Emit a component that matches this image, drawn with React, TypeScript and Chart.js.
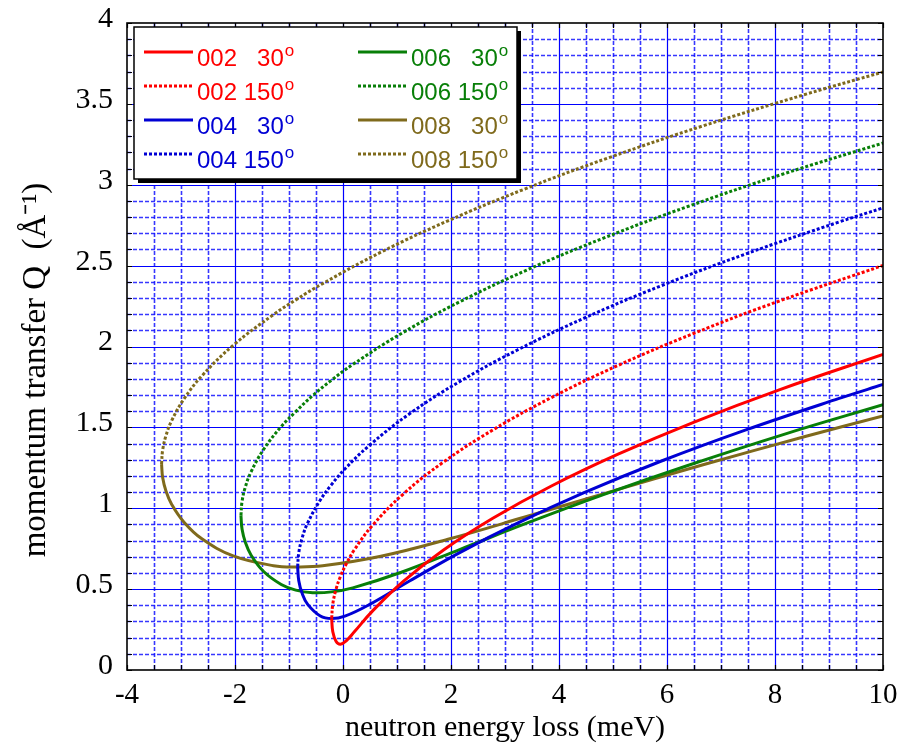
import React, { useEffect, useRef } from "react";
import { Chart, registerables } from "chart.js";

Chart.register(...registerables);

// ---- axis ranges / tick steps ----
const X_MIN = -4;
const X_MAX = 10;
const X_MAJOR = 2;
const X_MINOR = 0.5;
const Y_MIN = 0;
const Y_MAX = 4;
const Y_MAJOR = 0.5;
const Y_MINOR = 0.1;

const X_TITLE = "neutron energy loss (meV)";
const Y_TITLE = "momentum transfer Q  (Å⁻¹)";

// ---- series (neutron energy loss meV, momentum transfer 1/Å) ----
const dE002 = [-0.21, -0.189, -0.127, -0.048, 0.059, 0.21, 0.536, 1.116, 1.862, 2.774, 3.851, 5.094, 6.503, 8.078, 10];
const q002_30 = [0.318, 0.237, 0.176, 0.159, 0.18, 0.236, 0.361, 0.548, 0.742, 0.938, 1.136, 1.334, 1.533, 1.732, 1.951];
const q002_150 = [0.318, 0.408, 0.502, 0.578, 0.655, 0.743, 0.89, 1.088, 1.286, 1.484, 1.683, 1.883, 2.082, 2.281, 2.501];

const dE004 = [-0.84, -0.819, -0.757, -0.654, -0.42, -0.213, 0.035, 0.486, 1.232, 2.144, 3.221, 4.464, 5.873, 7.448, 9.188, 10];
const q004_30 = [0.637, 0.552, 0.474, 0.406, 0.334, 0.318, 0.333, 0.404, 0.55, 0.723, 0.906, 1.096, 1.289, 1.483, 1.679, 1.765];
const q004_150 = [0.637, 0.725, 0.816, 0.909, 1.051, 1.146, 1.243, 1.388, 1.584, 1.78, 1.977, 2.175, 2.373, 2.571, 2.77, 2.857];

const dE006 = [-1.89, -1.869, -1.807, -1.704, -1.47, -1.144, -0.875, -0.564, -0.212, 0.182, 1.094, 2.171, 3.414, 4.823, 6.398, 8.138, 10];
const q006_30 = [0.955, 0.87, 0.788, 0.711, 0.609, 0.529, 0.494, 0.478, 0.483, 0.508, 0.606, 0.746, 0.909, 1.084, 1.266, 1.454, 1.64];
const q006_150 = [0.955, 1.043, 1.133, 1.224, 1.364, 1.505, 1.597, 1.696, 1.792, 1.889, 2.083, 2.278, 2.474, 2.67, 2.867, 3.065, 3.258];

const dE008 = [-3.36, -3.339, -3.277, -3.174, -2.94, -2.614, -2.034, -1.288, -0.853, -0.376, 0.701, 1.944, 3.353, 4.928, 6.668, 8.575, 10];
const q008_30 = [1.273, 1.188, 1.105, 1.025, 0.912, 0.811, 0.705, 0.645, 0.637, 0.644, 0.703, 0.808, 0.944, 1.1, 1.269, 1.445, 1.571];
const q008_150 = [1.273, 1.361, 1.45, 1.541, 1.678, 1.818, 2.007, 2.197, 2.293, 2.389, 2.583, 2.777, 2.972, 3.168, 3.364, 3.56, 3.697];

const seriesLabels = ["002   30°", "002 150°", "004   30°", "004 150°", "006   30°", "006 150°", "008   30°", "008 150°"];
const seriesColors = ["#ff0000", "#ff0000", "#0000d4", "#0000d4", "#087f08", "#087f08", "#7f6a1c", "#7f6a1c"];
const seriesX = [dE002, dE002, dE004, dE004, dE006, dE006, dE008, dE008];
const seriesY = [q002_30, q002_150, q004_30, q004_150, q006_30, q006_150, q008_30, q008_150];

const SERIF = '"Liberation Serif", "Times New Roman", Times, serif';
const SANS = '"Liberation Sans", Arial, Helvetica, sans-serif';

function steps(min: number, max: number, step: number): number[] {
  const n = Math.round((max - min) / step);
  const out: number[] = [];
  for (let i = 0; i <= n; i++) out.push(+(min + i * step).toFixed(6));
  return out;
}

function isMultiple(v: number, step: number): boolean {
  const r = v / step;
  return Math.abs(r - Math.round(r)) < 1e-6;
}

const gridPlugin = {
  id: "customGrid",
  beforeDatasetsDraw(chart: any) {
    const { ctx, chartArea: a, scales } = chart;
    const xs = scales.x;
    const ys = scales.y;
    ctx.save();
    // minor dotted grid
    ctx.strokeStyle = "rgba(20,20,255,0.85)";
    ctx.lineWidth = 1.6;
    ctx.setLineDash([4, 2]);
    for (const v of steps(X_MIN, X_MAX, X_MINOR)) {
      if (isMultiple(v, X_MAJOR) || v === X_MIN || v === X_MAX) continue;
      const px = Math.round(xs.getPixelForValue(v)) + 0.5;
      ctx.beginPath();
      ctx.moveTo(px, a.top);
      ctx.lineTo(px, a.bottom);
      ctx.stroke();
    }
    for (const v of steps(Y_MIN, Y_MAX, Y_MINOR)) {
      if (isMultiple(v, Y_MAJOR) || v === Y_MIN || v === Y_MAX) continue;
      const py = Math.round(ys.getPixelForValue(v)) + 0.5;
      ctx.beginPath();
      ctx.moveTo(a.left, py);
      ctx.lineTo(a.right, py);
      ctx.stroke();
    }
    // major solid grid
    ctx.setLineDash([]);
    ctx.strokeStyle = "#0000ff";
    ctx.lineWidth = 1.2;
    for (const v of steps(X_MIN, X_MAX, X_MAJOR)) {
      if (v === X_MIN || v === X_MAX) continue;
      const px = Math.round(xs.getPixelForValue(v)) + 0.5;
      ctx.beginPath();
      ctx.moveTo(px, a.top);
      ctx.lineTo(px, a.bottom);
      ctx.stroke();
    }
    for (const v of steps(Y_MIN, Y_MAX, Y_MAJOR)) {
      if (v === Y_MIN || v === Y_MAX) continue;
      const py = Math.round(ys.getPixelForValue(v)) + 0.5;
      ctx.beginPath();
      ctx.moveTo(a.left, py);
      ctx.lineTo(a.right, py);
      ctx.stroke();
    }
    ctx.restore();
  },
  afterDatasetsDraw(chart: any) {
    const { ctx, chartArea: a, scales } = chart;
    const xs = scales.x;
    const ys = scales.y;
    ctx.save();
    ctx.setLineDash([]);
    ctx.strokeStyle = "#000";
    ctx.lineWidth = 1.2;
    const TL = 5;
    for (const v of steps(X_MIN, X_MAX, X_MINOR)) {
      const px = Math.round(xs.getPixelForValue(v)) + 0.5;
      ctx.beginPath();
      ctx.moveTo(px, a.bottom);
      ctx.lineTo(px, a.bottom - TL);
      ctx.moveTo(px, a.top);
      ctx.lineTo(px, a.top + TL);
      ctx.stroke();
    }
    for (const v of steps(Y_MIN, Y_MAX, Y_MINOR)) {
      const py = Math.round(ys.getPixelForValue(v)) + 0.5;
      ctx.beginPath();
      ctx.moveTo(a.left, py);
      ctx.lineTo(a.left + TL, py);
      ctx.moveTo(a.right, py);
      ctx.lineTo(a.right - TL, py);
      ctx.stroke();
    }
    ctx.lineWidth = 1.6;
    ctx.strokeRect(a.left, a.top, a.right - a.left, a.bottom - a.top);

    // y-axis title (drawn manually for exact placement)
    ctx.fillStyle = "#000";
    ctx.font = `33px ${SERIF}`;
    ctx.textAlign = "center";
    ctx.textBaseline = "middle";
    ctx.translate(36, 370);
    ctx.rotate(-Math.PI / 2);
    ctx.fillText(Y_TITLE, 0, 0);
    ctx.restore();
  },
};

const legendPlugin = {
  id: "boxLegend",
  afterDraw(chart: any) {
    const { ctx, chartArea: a } = chart;
    const L = a.left + 7;
    const T = a.top + 4;
    const W = 383;
    const H = 152;
    ctx.save();
    ctx.setLineDash([]);
    ctx.fillStyle = "#000";
    ctx.fillRect(L + 4, T + 4, W, H);
    ctx.fillStyle = "#fff";
    ctx.fillRect(L, T, W, H);
    ctx.strokeStyle = "#000";
    ctx.lineWidth = 1.5;
    ctx.strokeRect(L, T, W, H);
    chart.data.datasets.forEach((ds: any, i: number) => {
      const col = Math.floor(i / 4);
      const row = i % 4;
      const x0 = L + 10 + col * 214;
      const yRow = T + 25 + row * 34;
      ctx.strokeStyle = ds.borderColor;
      ctx.lineWidth = 3;
      ctx.setLineDash(ds.borderDash || []);
      ctx.beginPath();
      ctx.moveTo(x0, yRow);
      ctx.lineTo(x0 + 49, yRow);
      ctx.stroke();
      ctx.setLineDash([]);
      ctx.fillStyle = ds.borderColor;
      ctx.textAlign = "left";
      ctx.textBaseline = "alphabetic";
      ctx.font = `24px ${SANS}`;
      const hasDeg = ds.label.endsWith("°");
      const main = hasDeg ? ds.label.slice(0, -1) : ds.label;
      ctx.fillText(main, x0 + 53, yRow + 14);
      if (hasDeg) {
        const w = ctx.measureText(main).width;
        ctx.font = `17px ${SANS}`;
        ctx.fillText("o", x0 + 53 + w + 1, yRow + 4);
      }
    });
    ctx.restore();
  },
};

export default function App() {
  const canvasRef = useRef<HTMLCanvasElement | null>(null);

  useEffect(() => {
    const canvas = canvasRef.current;
    if (!canvas) return;
    const datasets = seriesLabels.map((label, i) => ({
      label,
      data: seriesX[i].map((x, j) => ({ x, y: seriesY[i][j] })),
      borderColor: seriesColors[i],
      backgroundColor: seriesColors[i],
      borderWidth: 3,
      borderDash: i % 2 === 1 ? [3, 2] : [],
      pointRadius: 0,
      fill: false,
      tension: 0.4,
    }));
    const chart = new Chart(canvas, {
      type: "line",
      data: { datasets },
      options: {
        animation: false,
        responsive: false,
        devicePixelRatio: 1,
        layout: { padding: { top: 23, right: 21, left: 0, bottom: 0 } },
        plugins: {
          legend: { display: false },
          tooltip: { enabled: false },
        },
        scales: {
          x: {
            type: "linear",
            min: X_MIN,
            max: X_MAX,
            ticks: {
              stepSize: X_MAJOR,
              color: "#000",
              padding: 8,
              font: { family: SERIF, size: 29 },
              callback: (v: any) => String(v),
            },
            grid: { display: false, drawTicks: false },
            border: { display: false },
            title: {
              display: true,
              text: X_TITLE,
              color: "#000",
              font: { family: SERIF, size: 30 },
              padding: { top: 0, bottom: 3 },
            },
            afterFit: (s: any) => {
              s.height = 79;
              s.paddingLeft = 0;
              s.paddingRight = 0;
            },
          },
          y: {
            type: "linear",
            min: Y_MIN,
            max: Y_MAX,
            ticks: {
              stepSize: Y_MAJOR,
              color: "#000",
              padding: 14,
              labelOffset: -4,
              font: { family: SERIF, size: 30 },
              callback: (v: any) => String(v),
            },
            grid: { display: false, drawTicks: false },
            border: { display: false },
            title: { display: false },
            afterFit: (s: any) => {
              s.width = 127;
              s.paddingTop = 0;
              s.paddingBottom = 0;
            },
          },
        },
      } as any,
      plugins: [gridPlugin, legendPlugin],
    });
    return () => chart.destroy();
  }, []);

  return (
    <div style={{ position: "fixed", left: 0, top: 0, width: 904, height: 749, background: "#fff" }}>
      <canvas ref={canvasRef} width={904} height={749} style={{ display: "block", width: 904, height: 749 }} />
    </div>
  );
}
